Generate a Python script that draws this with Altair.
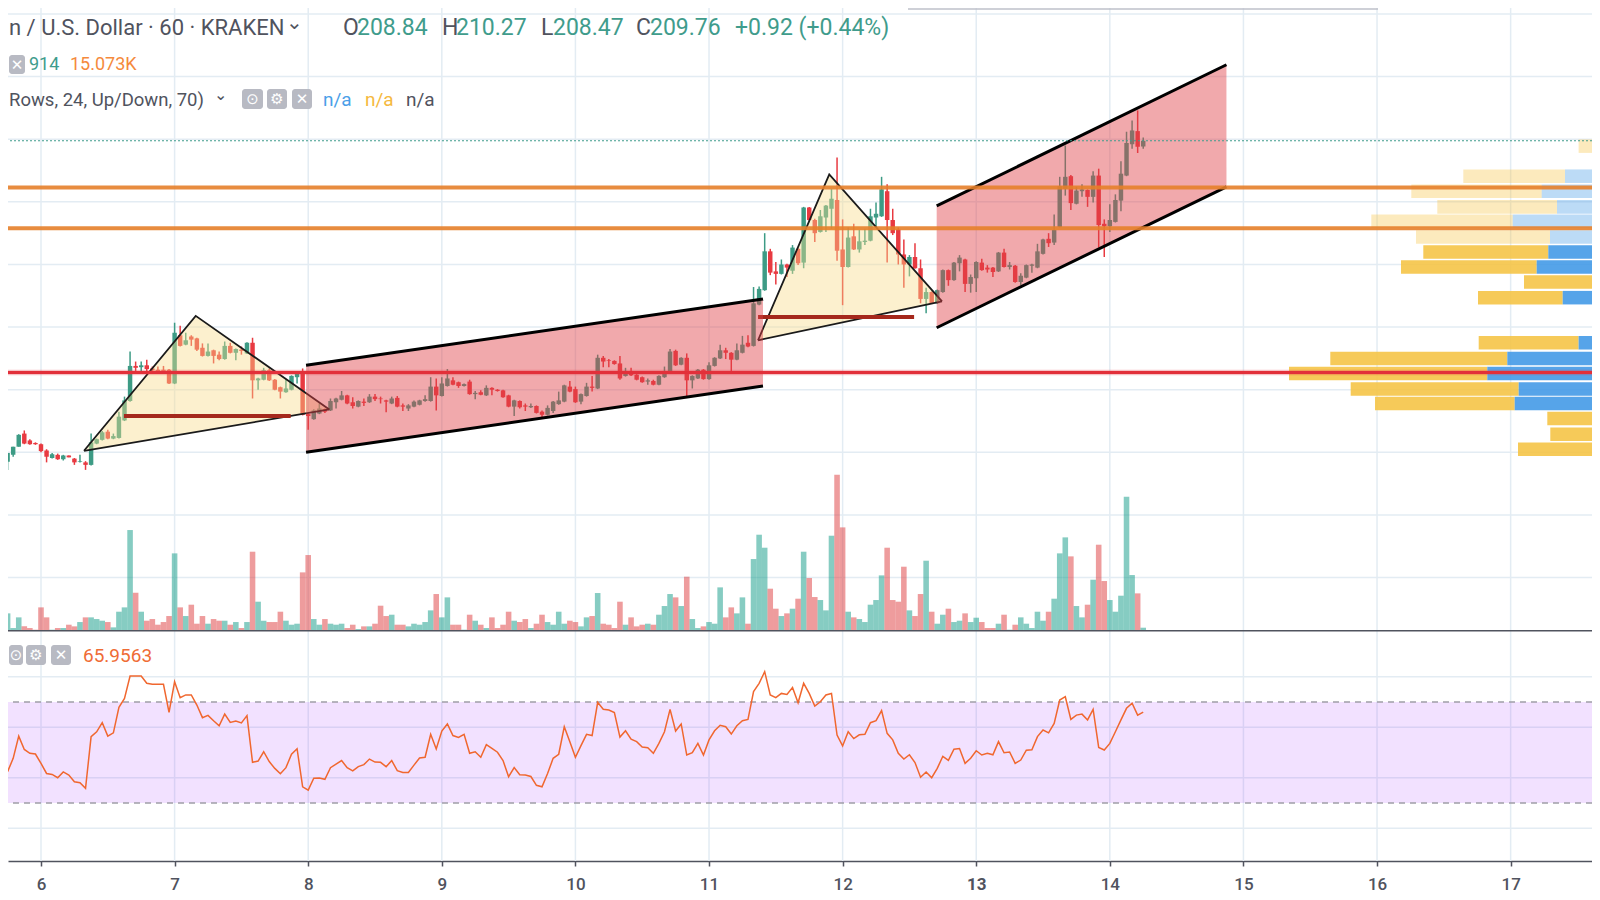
import altair as alt
import pandas as pd

# ---------- values ----------
first_day = 5.75          # first visible hourly candle
# (open, high, low, close) per hour
candles_a = [
(158.5,159.9,157.2,159.9),(159.6,160.9,159.3,160.9),(160.9,162.9,160.9,162.8),(163.0,163.5,161.3,161.4),
(161.9,162.1,161.2,161.3),(161.5,161.6,161.2,161.3),(161.3,161.4,160.0,160.2),(160.3,160.5,158.4,159.3),
(159.1,159.9,159.0,159.7),(159.6,159.8,158.8,158.9),(158.9,159.6,158.7,159.5),(159.5,159.5,159.2,159.2),
(159.0,159.1,158.0,158.4),(158.5,159.6,158.4,158.6),(158.4,158.6,157.2,158.0),(158.0,163.0,157.9,161.6),
(161.4,162.2,161.3,162.1),(162.0,163.4,161.9,163.2),(163.3,163.6,162.1,162.2),(162.2,163.0,162.1,162.6),
(162.3,166.5,162.2,165.7),(165.1,168.9,165.0,168.3),(168.2,176.1,168.1,173.8),(173.8,174.5,173.0,173.5),
(173.6,174.5,173.0,173.9),(173.9,174.8,173.0,173.3),(173.4,173.7,172.8,173.1),(173.2,173.7,172.8,172.9),
(173.2,173.8,172.9,173.0),(173.2,173.3,170.9,171.0),(171.0,180.7,170.9,179.1),(178.7,180.2,176.9,177.0),
(177.2,179.1,177.1,177.9),(178.5,178.7,177.0,178.0),(178.2,178.3,176.2,176.4),(176.7,177.4,175.3,175.4),
(175.4,177.4,175.3,176.1),(176.3,176.4,174.2,175.4),(175.6,176.1,174.7,174.9),(174.9,177.7,174.8,177.0),
(177.0,177.5,175.8,175.9),(175.9,176.6,174.7,176.5),(176.4,176.9,175.6,176.2),(175.8,177.6,175.7,177.5),
(177.5,178.3,168.6,171.5),(171.5,171.9,170.0,171.8),(171.6,173.5,171.5,173.1),(173.1,173.4,171.4,171.5),
(171.6,171.7,169.9,170.0),(170.4,170.5,168.6,169.7),(169.6,171.6,169.5,170.2),(170.0,172.3,169.9,172.2),
(172.0,172.9,171.0,172.8),(172.6,173.4,165.9,166.0),(166.1,166.2,163.6,165.8),
]
candles_b = [
(165.3,166.9,165.2,166.7),(166.2,167.8,166.1,167.0),(166.9,167.0,166.3,166.5),(166.7,168.6,166.6,168.2),
(168.0,168.7,167.0,168.6),(168.4,169.8,168.3,169.1),(169.1,169.2,167.7,167.8),(168.0,168.8,167.0,167.4),
(167.3,168.3,167.2,168.2),(168.1,168.6,167.4,167.9),(168.0,169.3,167.9,168.9),(168.9,169.3,168.2,168.5),
(168.6,168.9,167.8,168.5),(168.3,168.4,166.4,168.1),(167.8,168.9,167.7,168.6),(168.7,169.0,167.2,167.3),
(167.5,167.8,166.6,167.3),(167.0,167.7,166.6,167.5),(167.3,168.3,167.2,168.1),(167.6,168.4,167.5,168.3),
(168.2,169.1,168.1,168.5),(168.2,172.0,168.1,170.5),(170.5,171.8,166.7,169.1),(169.0,172.0,168.9,171.0),
(170.6,173.3,170.5,171.8),(171.5,172.0,170.7,170.8),(171.2,171.3,170.3,170.6),(170.6,171.0,170.5,170.9),
(171.3,171.6,169.2,169.3),(169.3,169.8,168.5,169.5),(169.6,169.9,169.1,169.2),(169.1,170.7,169.0,170.3),
(170.3,170.4,169.1,170.0),(170.0,170.1,169.7,169.8),(169.9,170.0,168.7,168.8),(169.1,169.2,167.2,167.3),
(167.3,168.4,165.8,168.3),(168.2,168.3,167.0,167.2),(167.5,167.8,166.6,167.3),(167.2,167.8,167.1,167.4),
(167.4,167.5,166.2,166.3),(166.5,166.7,165.6,166.0),(166.0,167.5,165.9,167.1),(166.6,168.2,166.3,168.1),
(167.7,169.7,167.6,168.3),(168.1,170.8,168.0,170.7),(170.5,171.4,169.6,169.7),(170.1,170.5,167.9,168.0),
(168.1,169.4,167.7,169.3),(169.0,171.1,168.9,170.5),(170.5,172.2,169.7,170.3),(170.2,175.6,170.1,175.1),
(175.1,175.4,173.6,174.5),(174.7,174.9,173.6,174.6),(174.6,174.7,174.0,174.1),(174.2,175.4,171.6,171.8),
(172.2,173.5,172.1,173.0),(173.0,173.5,172.2,172.3),(172.4,172.5,171.5,171.6),(172.0,172.1,171.1,171.2),
(171.3,171.8,170.8,171.5),(171.4,171.6,170.7,170.8),(170.8,172.3,170.7,172.2),(172.0,173.7,171.9,173.0),
(172.6,176.5,172.5,176.1),(176.2,176.4,173.8,173.9),(174.0,175.2,173.9,175.1),(175.1,175.8,169.0,171.5),
(171.5,172.3,170.2,172.2),(171.8,173.3,171.7,173.2),(173.2,173.3,171.6,171.7),(171.7,174.4,171.6,173.9),
(173.8,175.2,173.7,175.1),(175.0,177.2,174.9,176.3),(176.3,176.7,174.9,175.9),(175.9,176.0,172.9,174.8),
(174.8,177.4,174.7,176.3),(175.9,178.6,175.8,177.2),(177.5,178.7,176.8,176.9),
]
candles_c = [
(177.0,186.4,176.9,183.8),(183.6,186.5,183.5,186.1),(185.9,195.0,185.8,192.1),(192.1,192.5,188.3,188.7),
(188.9,190.4,186.8,188.5),(188.5,190.8,188.4,190.0),(190.0,190.1,188.0,189.5),(189.0,193.1,188.5,192.7),
(192.5,192.6,189.9,190.2),(190.3,199.2,189.4,199.1),(199.1,199.2,197.0,197.1),(197.1,197.3,193.6,195.0),
(195.2,198.7,195.1,197.7),(197.5,199.5,195.2,199.4),(198.9,202.1,195.7,200.5),(200.3,207.1,190.6,192.2),
(192.4,197.2,183.5,189.6),(189.6,195.9,189.5,194.3),(194.5,196.5,192.3,192.4),(192.4,195.5,191.9,193.7),
(193.6,195.7,193.1,193.8),(193.8,198.9,193.7,197.7),(197.5,199.9,195.9,198.1),(197.7,204.0,197.6,202.0),
(201.7,202.8,190.3,197.1),(197.1,198.9,194.7,195.0),(195.6,195.9,190.0,191.6),(191.6,194.0,186.3,190.0),
(190.0,191.5,188.1,191.2),(191.2,193.4,189.3,189.4),(189.4,190.8,183.8,184.5),(184.5,186.3,182.2,185.6),
(185.6,185.7,183.7,183.8),(183.8,186.0,183.7,185.9),(185.6,189.2,185.5,189.1),(189.1,189.2,186.6,187.5),
]
candles_d = [
(187.5,190.4,187.4,190.3),(190.2,191.5,188.9,191.1),(190.8,190.9,185.6,186.9),(186.9,188.4,185.5,188.0),
(187.8,190.5,185.6,190.4),(190.3,190.9,189.0,189.1),(189.5,189.9,188.7,189.2),(189.5,189.6,188.0,188.8),
(188.9,192.0,188.8,191.9),(191.9,192.5,189.5,189.6),(189.6,190.4,189.2,189.9),(189.8,189.9,187.1,187.2),
(187.2,188.6,186.7,188.2),(187.9,190.0,187.8,189.9),(189.8,190.1,188.7,190.0),(189.5,193.3,189.4,192.1),
(191.7,194.1,191.6,194.0),(194.1,195.0,192.8,193.4),(193.5,198.0,193.1,195.5),(196.0,204.0,195.9,202.5),
(202.1,209.0,201.0,204.0),(204.1,204.3,198.7,199.8),(199.7,202.4,199.6,201.8),(201.7,202.8,200.8,202.0),
(201.9,202.0,199.2,200.8),(200.8,204.9,199.9,204.2),(204.2,205.3,192.7,196.3),(196.5,197.2,191.2,196.1),
(196.1,199.6,195.2,197.1),(196.8,201.2,196.7,200.3),(200.2,206.5,198.5,204.5),(204.2,211.2,204.1,209.4),
(209.2,213.0,208.5,211.4),(211.3,214.6,207.8,208.8),(208.84,210.27,208.47,209.76),
]
volumes = [
52,8,40,13,8,3,70,40,3,8,8,18,13,26,40,40,35,30,26,10,57,70,302,114,57,30,35,18,26,44,232,70,44,78,21,44,21,35,30,30,
18,26,8,26,237,87,30,26,26,57,30,18,21,175,227,35,18,35,21,18,21,8,18,5,13,13,21,75,44,48,18,18,13,21,18,26,61,110,40,100,
18,18,3,48,30,18,8,40,8,18,57,30,26,35,8,21,48,26,18,57,21,30,26,13,40,44,113,21,18,8,87,18,40,13,18,21,18,48,74,110,
100,74,162,35,8,13,26,21,130,40,70,52,100,21,215,288,249,126,66,44,52,66,96,237,158,101,92,61,285,468,310,57,40,35,26,78,92,166,249,92,
87,192,61,44,110,210,57,21,48,66,26,30,52,26,39,26,8,8,21,48,3,18,40,21,8,57,30,57,96,232,280,223,74,40,78,153,258,149,92,57,
105,402,167,112,9,
]
rsi_values = [
42.4,47.7,56.5,51.2,49.7,49.4,45.7,41.7,41.3,40.0,42.3,41.1,38.4,38.0,35.8,56.3,58.2,61.8,56.5,57.8,
67.9,71.4,80.3,80.3,80.3,77.4,77.0,77.0,77.0,65.9,78.0,71.7,72.8,72.8,68.8,63.8,64.7,62.6,60.6,65.2,
61.9,62.5,61.7,64.6,46.1,46.6,50.3,46.4,43.7,41.6,44.0,49.3,51.5,36.4,35.1,39.8,39.9,39.4,44.0,45.4,
46.8,44.0,42.7,44.4,45.2,47.4,46.2,46.1,44.4,46.8,42.8,42.1,42.1,45.0,47.8,48.1,57.2,51.4,58.5,61.3,
56.7,56.0,57.2,49.7,50.3,48.1,53.1,51.6,50.1,46.8,40.4,44.0,41.2,41.1,40.5,37.0,36.4,41.7,47.7,49.3,
60.2,54.3,48.1,52.7,57.2,56.7,69.9,67.1,66.8,65.8,56.1,58.6,55.3,54.3,52.2,51.9,49.7,53.6,58.2,67.1,
58.5,61.3,49.0,49.9,53.6,49.0,55.0,58.6,60.8,60.2,57.3,60.6,62.6,63.1,74.1,77.4,82.0,72.8,71.7,73.4,
73.0,75.7,69.7,77.4,73.4,68.4,70.1,72.8,73.4,56.9,52.6,58.2,55.5,57.0,57.2,61.8,62.6,66.6,57.6,55.0,
49.7,47.4,49.1,46.0,40.2,42.3,40.0,43.7,48.5,46.9,51.3,51.6,45.7,47.7,50.7,49.0,49.7,49.1,54.3,49.9,
50.2,45.7,47.0,50.9,51.1,56.3,58.9,57.8,61.5,70.8,72.1,63.1,64.8,65.2,62.9,67.1,52.0,51.0,53.6,58.2,
62.9,67.5,69.5,64.8,65.96,
]
day_ticks = [6,7,8,9,10,11,12,13,14,15,16,17]
price_grid = [140,150,160,170,180,190,200,210,220,230]
rsi_grid = [20,40,60,80]
rsi_bands = [30,70]
last_price = 209.76
orange_levels = [202.3,195.8]
red_level = 172.75

# volume profile rows: price at the row centre, full length, up-part length (from the right edge)
vp_price = [208.9,206.5,204.1,201.7,199.2,196.9,194.4,192.0,189.6,187.2,184.7,177.5,175.0,172.6,170.1,167.8,165.4,162.9,160.5]
vp_total = [21.4,2,136.7,188.7,162.7,228.7,184,176.7,199,76,122,121.3,269.7,311,249.3,225,52.7,49.7,82]
vp_up    = [0,0,35,58.3,43,87.3,50,51.7,63.3,0,37.3,21.4,92.7,112.7,81.3,85.3,0,0,8]

chan_day   = [7.984,11.404,12.704,14.873]
chan_top   = [173.9,184.5,199.35,221.9]
chan_bot   = [160.0,170.6,179.9,202.4]
chan_id    = ['a','a','b','b']
tri_day    = [6.322,7.158,8.158,11.367,11.90,12.744]
tri_upper  = [160.25,181.8,166.85,177.9,204.4,184.1]
tri_lower  = [160.25,163.25,166.85,177.9,180.3,184.1]
tri_id     = ['a','a','a','b','b','b']
sup_start  = [6.621,11.367]
sup_end    = [7.869,12.535]
sup_price  = [165.8,181.6]

# ---------- layout ----------
W, H = 1584, 853
X_DOMAIN = [5.753, 17.609]
X_SCALE = alt.Scale(domain=X_DOMAIN, nice=False, zero=False)
P_SCALE = alt.Scale(domain=[140,230], range=[569.6,6.0], nice=False, zero=False)
V_SCALE = alt.Scale(domain=[0,1000], range=[622.7,289.4], nice=False, zero=False)
R_SCALE = alt.Scale(domain=[20,80], range=[820.25,668.75], nice=False, zero=False)
VP_X = alt.Scale(domain=[8,1592], reverse=True, nice=False, zero=False)

def X(f, **kw):
    return alt.X(f, type='quantitative', scale=X_SCALE, axis=None, **kw)
def Y(f, s):
    return alt.Y(f, type='quantitative', scale=s, axis=None)

UP, DOWN = '#3d9b85', '#e83a41'
GRID = '#e3ecf3'
TXT = '#50535e'
TEAL = '#3f9c8c'

ohlc = candles_a + candles_b + candles_c + candles_d
df = pd.DataFrame(ohlc, columns=['open','high','low','close'])
df['day'] = [first_day + i/24 for i in range(len(df))]
df['vol'] = volumes
df['rsi'] = rsi_values
df['top'] = df[['open','close']].max(axis=1)
df['bot'] = df[['open','close']].min(axis=1)
df['up'] = df['close'] >= df['open']
df['x1'] = df['day'] - 1/60
df['x2'] = df['day'] + 1/60
df['vx1'] = df['day'] - 1/48
df['vx2'] = df['day'] + 1/48
df['vcolor'] = ['#0d9a85' if u else '#dd3a3c' for u in df['up']]
df['ccolor'] = [UP if u else DOWN for u in df['up']]

one = pd.DataFrame({'a':[0]})
layers = []

# grid
layers.append(alt.Chart(pd.DataFrame({'d':day_ticks})).mark_rule(stroke=GRID, strokeWidth=1.5).encode(
    x=alt.X('d:Q', scale=X_SCALE, axis=alt.Axis(
        values=day_ticks, format='d', title=None, grid=False, labelFont='Roboto', labelFontSize=17,
        labelColor=TXT, labelFontWeight={"condition":{"test":"datum.value==13","value":"bold"},"value":500},
        domainColor=TXT, domainWidth=1.5, tickColor=TXT, tickSize=5, tickWidth=1.5, labelPadding=10, labelAngle=0)),
    y=alt.value(0), y2=alt.value(H)))
layers.append(alt.Chart(pd.DataFrame({'p':price_grid})).mark_rule(stroke=GRID, strokeWidth=1.5).encode(y=Y('p',P_SCALE)))
layers.append(alt.Chart(pd.DataFrame({'r':rsi_grid})).mark_rule(stroke=GRID, strokeWidth=1.5).encode(y=Y('r',R_SCALE)))

# volume profile
vp = pd.DataFrame({'p':vp_price,'total':vp_total,'upv':vp_up})
vp['ptop'] = vp['p'] + 1.08
vp['pbot'] = vp['p'] - 1.08
vp['op'] = [0.35 if p >= 193 else 0.88 for p in vp_price]
layers.append(alt.Chart(vp[vp['total']>8]).mark_rect(fill='#f5c342').encode(
    x=alt.X('total:Q', scale=VP_X, axis=None), x2='upv:Q',
    y=Y('ptop',P_SCALE), y2='pbot:Q', opacity=alt.Opacity('op:Q', scale=None)))
layers.append(alt.Chart(vp[vp['upv']>8]).mark_rect(fill='#3f97e6').encode(
    x=alt.X('upv:Q', scale=VP_X, axis=None), x2=alt.value(W),
    y=Y('ptop',P_SCALE), y2='pbot:Q', opacity=alt.Opacity('op:Q', scale=None)))

# volume
layers.append(alt.Chart(df).mark_rect(opacity=0.5).encode(
    x=X('vx1'), x2='vx2:Q', y=Y('vol',V_SCALE), y2=alt.datum(0),
    color=alt.Color('vcolor:N', scale=None)))
# candles
layers.append(alt.Chart(df).mark_rule(strokeWidth=1.5).encode(
    x=X('day'), y=Y('high',P_SCALE), y2='low:Q', color=alt.Color('ccolor:N', scale=None)))
layers.append(alt.Chart(df).mark_rect().encode(
    x=X('x1'), x2='x2:Q', y=Y('top',P_SCALE), y2='bot:Q', color=alt.Color('ccolor:N', scale=None)))

# RSI pane
layers.append(alt.Chart(pd.DataFrame({'a':[rsi_bands[0]],'b':[rsi_bands[1]]})).mark_rect(fill='#9915ff', opacity=0.13).encode(
    x=alt.value(0), x2=alt.value(W), y=Y('b',R_SCALE), y2='a:Q'))
layers.append(alt.Chart(pd.DataFrame({'r':rsi_bands})).mark_rule(stroke='#a09ea8', strokeWidth=1.4, strokeDash=[6,5]).encode(y=Y('r',R_SCALE)))
layers.append(alt.Chart(df).mark_line(stroke='#f0672f', strokeWidth=1.5).encode(x=X('day'), y=Y('rsi',R_SCALE)))

# triangles
tri = pd.DataFrame({'d':tri_day,'u':tri_upper,'l':tri_lower,'id':tri_id})
layers.append(alt.Chart(tri).mark_area(fill='#f7dc8a', opacity=0.42).encode(
    x=X('d'), y=Y('u',P_SCALE), y2='l:Q', detail='id:N'))
edge = pd.concat([
    tri.assign(v=tri['u'], seq=range(len(tri)), part='t'),
    tri.iloc[[0,2]].assign(v=lambda t:t['l'], seq=[0,1], part='b'),
    tri.iloc[[3,5]].assign(v=lambda t:t['l'], seq=[0,1], part='b'),
])
edge['path'] = edge['id'] + edge['part']
layers.append(alt.Chart(edge).mark_line(stroke='#1a1a1a', strokeWidth=1.8).encode(
    x=X('d'), y=Y('v',P_SCALE), detail='path:N', order='seq:Q'))
sup = pd.DataFrame({'a':sup_start,'b':sup_end,'p':sup_price})
layers.append(alt.Chart(sup).mark_rule(stroke='#a5281c', strokeWidth=4).encode(x=X('a'), x2='b:Q', y=Y('p',P_SCALE)))

# channels
ch = pd.DataFrame({'d':chan_day,'t':chan_top,'b':chan_bot,'id':chan_id})
layers.append(alt.Chart(ch).mark_area(fill='#e04048', opacity=0.45).encode(
    x=X('d'), y=Y('t',P_SCALE), y2='b:Q', detail='id:N'))
layers.append(alt.Chart(ch).mark_line(stroke='#000000', strokeWidth=3).encode(x=X('d'), y=Y('t',P_SCALE), detail='id:N'))
layers.append(alt.Chart(ch).mark_line(stroke='#000000', strokeWidth=3).encode(x=X('d'), y=Y('b',P_SCALE), detail='id:N'))

# level lines
layers.append(alt.Chart(pd.DataFrame({'p':[last_price]})).mark_rule(stroke=TEAL, strokeWidth=1.2, strokeDash=[2,2]).encode(y=Y('p',P_SCALE)))
layers.append(alt.Chart(pd.DataFrame({'p':orange_levels})).mark_rule(stroke='#e6802a', strokeWidth=4, opacity=0.9).encode(y=Y('p',P_SCALE)))
layers.append(alt.Chart(pd.DataFrame({'p':[red_level]})).mark_rule(stroke='#e53942', strokeWidth=5.5, opacity=0.3).encode(y=Y('p',P_SCALE)))
layers.append(alt.Chart(pd.DataFrame({'p':[red_level]})).mark_rule(stroke='#e2303a', strokeWidth=3).encode(y=Y('p',P_SCALE)))
# pane separator
layers.append(alt.Chart(one).mark_rule(stroke=TXT, strokeWidth=1.5).encode(x=alt.value(0), x2=alt.value(W), y=alt.value(622.7)))
# toolbar shadow at the top
layers.append(alt.Chart(one).mark_rect(fill='#b9bcc6', opacity=0.7).encode(x=alt.value(900), x2=alt.value(1370), y=alt.value(0), y2=alt.value(2)))

# header texts (label, left, centre y, size, colour, font)
texts = [
 ('n / U.S. Dollar · 60 · KRAKEN',9,28,22,TXT,'Roboto'),
 ('⌄',286,23,20,TXT,'DejaVu Sans'),
 ('O',343,28,23,TXT,'Roboto'),('208.84',357,28,23,TEAL,'Roboto'),
 ('H',442,28,23,TXT,'Roboto'),('210.27',456,28,23,TEAL,'Roboto'),
 ('L',541,28,23,TXT,'Roboto'),('208.47',553,28,23,TEAL,'Roboto'),
 ('C',636,28,23,TXT,'Roboto'),('209.76',650,28,23,TEAL,'Roboto'),
 ('+0.92 (+0.44%)',735,28,23,TEAL,'Roboto'),
 ('914',29,65,18,TEAL,'Roboto'),('15.073K',70,65,18,'#f58a3c','Roboto'),
 ('Rows, 24, Up/Down, 70)',9,100,18.5,TXT,'Roboto'),
 ('⌄',214,95,16,TXT,'DejaVu Sans'),
 ('n/a',323,100,19,'#4a9fe8','Roboto'),('n/a',365,100,19,'#f5b93e','Roboto'),('n/a',406,100,19,TXT,'Roboto'),
 ('65.9563',83,656,19,'#ef6c35','Roboto'),
]
# little grey control buttons (left, top, right, bottom, glyph)
buttons = [
 (9,55,25,74,'✕'),
 (242,89,263,109,'⊙'),(267,89,287,109,'⚙'),(292,89,312,109,'✕'),
 (9,645,23,665,'⊙'),(26,645,46,665,'⚙'),(51,645,71,665,'✕'),
]
for l,t,r,b,g in buttons:
    layers.append(alt.Chart(one).mark_rect(fill='#b8bac3', cornerRadius=3).encode(
        x=alt.value(l-8), x2=alt.value(r-8), y=alt.value(t-8), y2=alt.value(b-8)))
    layers.append(alt.Chart(one).mark_text(text=g, font='DejaVu Sans', fontSize=15, color='#ffffff', align='center', baseline='middle').encode(
        x=alt.value((l+r)/2-8), y=alt.value((t+b)/2-8)))
for s,x0,y0,size,col,font in texts:
    layers.append(alt.Chart(one).mark_text(text=s, font=font, fontSize=size, color=col, align='left', baseline='middle').encode(
        x=alt.value(x0-8), y=alt.value(y0-8)))

chart = alt.layer(*layers).resolve_scale(x='independent', y='independent').properties(
    width=W, height=H,
    autosize=alt.AutoSizeParams(type='none'),
    padding={'left':0,'top':0,'right':0,'bottom':36},
    background='#ffffff',
).configure_view(stroke=None)

chart.save("out.html", embed_options={"renderer": "svg", "actions": False})
